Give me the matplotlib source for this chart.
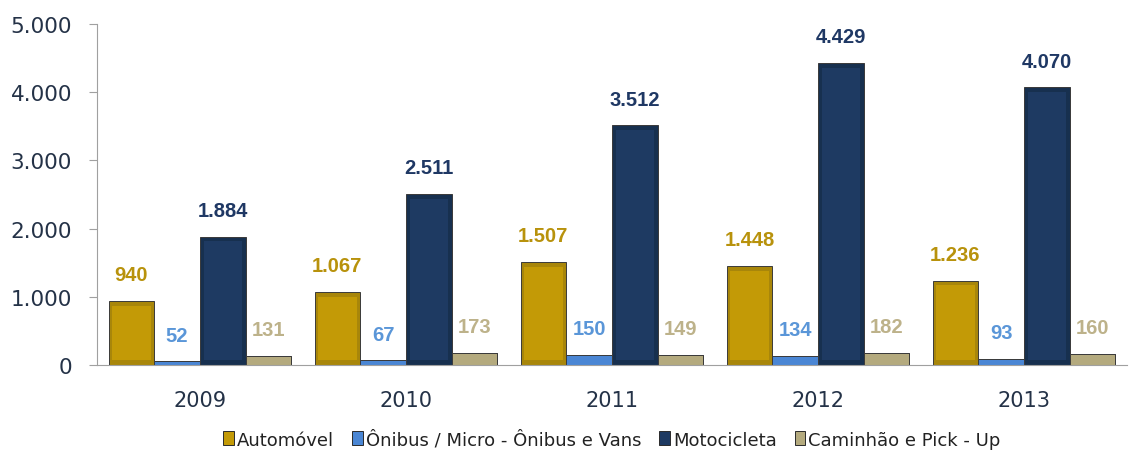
import matplotlib.pyplot as plt
import numpy as np

anos = ['2009', '2010', '2011', '2012', '2013']
series = ['Automóvel', 'Ônibus / Micro - Ônibus e Vans', 'Motocicleta', 'Caminhão e Pick - Up']
automovel = [940, 1067, 1507, 1448, 1236]
onibus = [52, 67, 150, 134, 93]
moto = [1884, 2511, 3512, 4429, 4070]
caminhao = [131, 173, 149, 182, 160]

bar_colors = ['#C39A06', '#4A86D4', '#1E3A62', '#B4AA7E']
edge_colors = ['#A8860A', '#3C72B8', '#17304F', '#9C936A']
label_colors = ['#B8920C', '#5A96D8', '#1F3864', '#BDB28A']


def fmt(v):
    return f'{v:,}'.replace(',', '.')


fig = plt.figure(figsize=(11.32, 4.52), dpi=100)
ax = fig.add_axes([97 / 1132, 1 - 366 / 452, 1030 / 1132, 341 / 452])

x = np.arange(len(anos))
w = 0.222
inset = 70  # bevel inset in data units
data = [automovel, onibus, moto, caminhao]
for i, vals in enumerate(data):
    pos = x + (i - 1.5) * w
    ax.bar(pos, vals, w, color=edge_colors[i], edgecolor='#3a3a3a',
           linewidth=0.7, zorder=2)
    # inner face for a bevelled look (only where the bar is tall enough)
    vals_arr = np.array(vals)
    tall = vals_arr > 4 * inset
    ax.bar(pos[tall], vals_arr[tall] - 2 * inset, w * 0.84, bottom=inset,
           color=bar_colors[i], edgecolor='none', zorder=3)
    ax.bar(pos[~tall], vals_arr[~tall], w, color=bar_colors[i],
           edgecolor='#3a3a3a', linewidth=0.7, zorder=3)
    ax.bar([np.nan], [0], color=bar_colors[i], edgecolor='#2b2b2b',
           linewidth=0.7, label=series[i])
    for p, v in zip(pos, vals):
        ax.annotate(fmt(v), (p, v), xytext=(0, 19), textcoords='offset points',
                    ha='center', va='center', fontsize=14.5, fontweight='bold',
                    color=label_colors[i], family='Liberation Sans')

ax.set_xlim(-0.5, 4.5)
ax.set_ylim(0, 5000)
ax.set_yticks(np.arange(0, 5001, 1000))
ax.set_yticklabels([fmt(v) for v in range(0, 5001, 1000)], fontsize=15.5, color='#243247')
ax.set_xticks(x)
ax.set_xticklabels(anos, fontsize=15, color='#243247')
ax.tick_params(axis='x', length=0, pad=18)
ax.tick_params(axis='y', length=6, color='#a0a0a0', pad=12)
for s in ['top', 'right']:
    ax.spines[s].set_visible(False)
ax.spines['left'].set_color('#a0a0a0')
ax.spines['bottom'].set_color('#a0a0a0')
ax.spines['bottom'].set_zorder(4)

ax.legend(loc='center', bbox_to_anchor=(0.5, -0.218), ncol=4, frameon=False,
          fontsize=13, handlelength=0.6, handleheight=0.8, handletextpad=0.15,
          columnspacing=1.0, labelcolor='#222222')

fig.savefig('out.png', dpi=100)
